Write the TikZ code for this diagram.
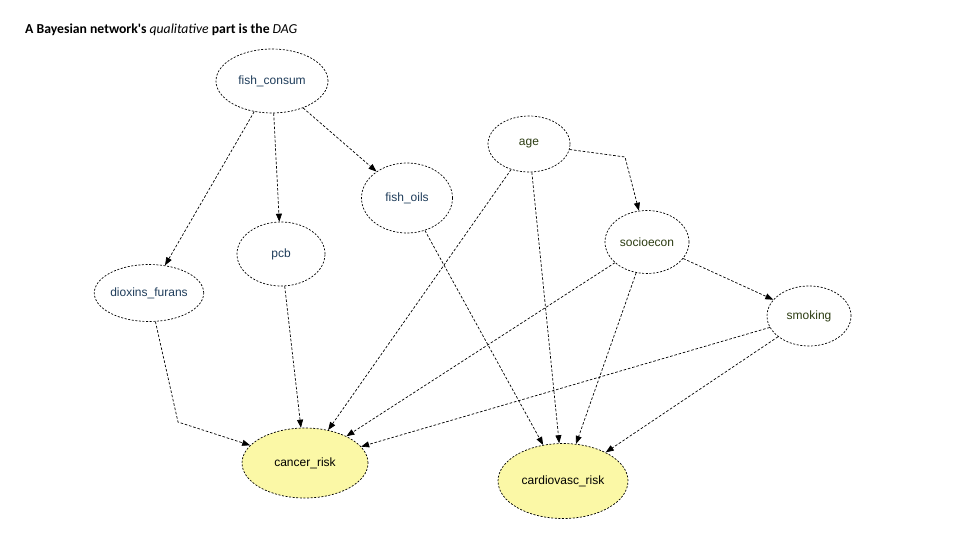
\documentclass[tikz,border=0pt]{standalone}
\usepackage{fontspec}
\setmainfont{Liberation Sans}
\newfontfamily\titlefont{Carlito}
\usepackage{tikz}
\usetikzlibrary{shapes.geometric, positioning, arrows.meta}

\definecolor{varblue}{HTML}{1E3C5A}
\definecolor{vargreen}{HTML}{2C3C12}
\definecolor{riskfill}{HTML}{FBF8A6}

\tikzset{
    var/.style={ellipse, draw, line width=0.7pt, dash pattern=on 2pt off 1.6pt,
        inner sep=0pt, font=\fontsize{12}{14}\selectfont},
    risk/.style={var, fill=riskfill, text=black},
    link/.style={->, line width=0.7pt, dash pattern=on 2.6pt off 1.8pt}
}

\begin{document}
\begin{tikzpicture}[x=1pt, y=-1pt, >={Triangle[length=8pt,width=6pt]}]

    \useasboundingbox (0,0) rectangle (960,540);

    % --- Title ---
    \node[anchor=base west, inner sep=0pt, font=\titlefont\fontsize{13.7}{16}\selectfont\bfseries]
        (title) at (25,34) {A Bayesian network's \textmd{\textit{qualitative}} part is the \textmd{\textit{DAG}}};

    % --- Variables (top part) ---
    \node[var, text=varblue, minimum width=112, minimum height=64] (fishconsum) at (272,81) {fish\_consum};
    \node[var, text=varblue, minimum width=91, minimum height=70] (fishoils) at (407,198) {fish\_oils};
    \node[var, text=varblue, minimum width=88, minimum height=64] (pcb) at (281,254) {pcb};
    \node[var, text=varblue, minimum width=86, minimum height=57] (dioxins) at (149,293) {dioxins\_furans};

    % --- Variables (right part) ---
    \node[var, text=vargreen, minimum width=82, minimum height=56] (age) at (529,144) {age};
    \node[var, text=vargreen, minimum width=84, minimum height=63] (socioecon) at (647,242) {socioecon};
    \node[var, text=vargreen, minimum width=84, minimum height=60] (smoking) at (809,316) {smoking};

    % --- Outcomes ---
    \node[risk, minimum width=126, minimum height=70] (cancer) at (305,463) {cancer\_risk};
    \node[risk, minimum width=130, minimum height=75] (cardio) at (563,481) {cardiovasc\_risk};

    % --- Bends ---
    \coordinate (agebend) at (625,157);
    \coordinate (dioxbend) at (178,422);

    % --- Links ---
    \draw[link] (fishconsum) -- (dioxins);
    \draw[link] (fishconsum) -- (pcb);
    \draw[link] (fishconsum) -- (fishoils);
    \draw[link] (age) -- (agebend) -- (socioecon);
    \draw[link] (age) -- (cancer);
    \draw[link] (age) -- (cardio);
    \draw[link] (fishoils) -- (cardio);
    \draw[link] (socioecon) -- (cancer);
    \draw[link] (socioecon) -- (cardio);
    \draw[link] (socioecon) -- (smoking);
    \draw[link] (smoking) -- (cancer);
    \draw[link] (smoking) -- (cardio);
    \draw[link] (pcb) -- (cancer);
    \draw[link] (dioxins) -- (dioxbend) -- (cancer);

\end{tikzpicture}
\end{document}
